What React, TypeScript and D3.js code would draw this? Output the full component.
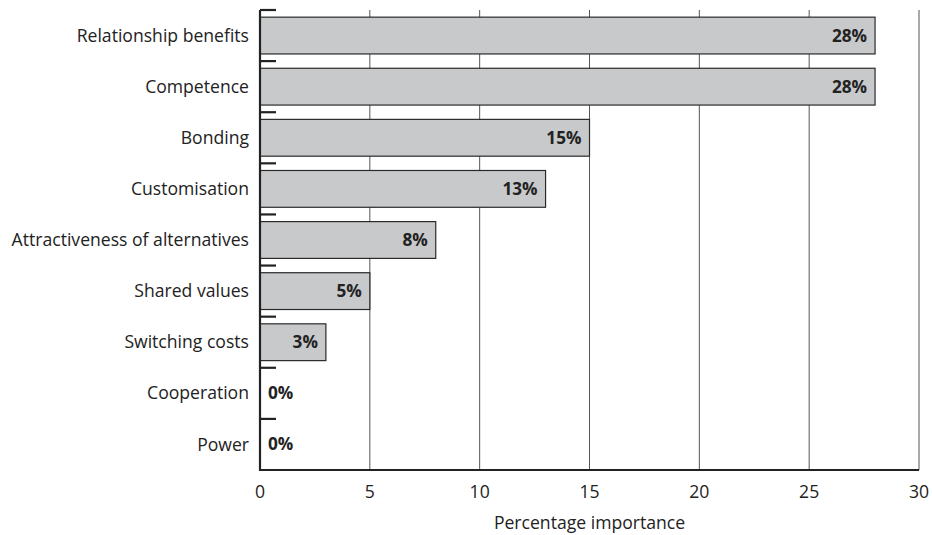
import React from "react";
import * as d3 from "d3";

const categories = ["Relationship benefits", "Competence", "Bonding", "Customisation", "Attractiveness of alternatives", "Shared values", "Switching costs", "Cooperation", "Power"];
const values = [28, 28, 15, 13, 8, 5, 3, 0, 0];
const xTicks = [0, 5, 10, 15, 20, 25, 30];
const xTitle = "Percentage importance";

export default function App() {
  const W = 933, H = 535;
  const left = 260, right = 919, top = 10, bottom = 470;
  const x = d3.scaleLinear().domain([0, 30]).range([left, right]);
  const y = d3.scaleBand().domain(categories).range([top, bottom]).paddingInner(0.28).paddingOuter(0.14);
  const band = d3.scaleBand().domain(categories).range([top, bottom]);
  const font = "'Open Sans', 'Noto Sans', sans-serif";
  const fs = 17.6;
  return (
    <svg width={W} height={H} style={{ position: "absolute", left: 0, top: 0, background: "#fff" }} fontFamily={font}>
      {xTicks.filter(t => t > 0).map(t => (
        <line key={t} x1={x(t)} x2={x(t)} y1={top} y2={bottom} stroke="#555" strokeWidth={1} />
      ))}
      {categories.map((c, i) => (
        <g key={c}>
          <rect x={x(0)} y={y(c)!} width={x(values[i]) - x(0)} height={y.bandwidth()} fill="#c8c9cb" stroke="#2a2a2a" strokeWidth={1.2} />
          <line x1={left} x2={left + 16} y1={band(c)!} y2={band(c)!} stroke="#222" strokeWidth={2.2} />
          <text x={249} y={y(c)! + y.bandwidth() / 2} dy="0.35em" textAnchor="end" fontSize={fs} fill="#222">{c}</text>
          <text
            x={values[i] > 0 ? x(values[i]) - 8 : x(0) + 8}
            y={y(c)! + y.bandwidth() / 2}
            dy="0.35em"
            textAnchor={values[i] > 0 ? "end" : "start"}
            fontSize={17.2}
            fontWeight="bold"
            fill="#222"
          >{values[i]}%</text>
        </g>
      ))}
      <line x1={left} x2={left} y1={top} y2={bottom + 1} stroke="#222" strokeWidth={2.2} />
      <line x1={left} x2={right} y1={bottom} y2={bottom} stroke="#222" strokeWidth={2.2} />
      {xTicks.map(t => (
        <text key={t} x={x(t)} y={492} dy="0.35em" textAnchor="middle" fontSize={fs} fill="#222">{t}</text>
      ))}
      <text x={(left + right) / 2} y={523} dy="0.35em" textAnchor="middle" fontSize={fs} fill="#222">{xTitle}</text>
    </svg>
  );
}
